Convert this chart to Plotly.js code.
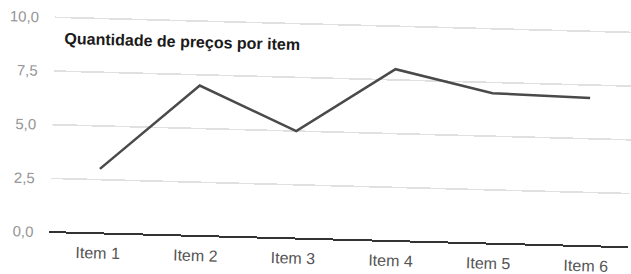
<!DOCTYPE html>
<html>
<head>
<meta charset="utf-8">
<script src="https://cdn.plot.ly/plotly-3.0.1.min.js"></script>
<style>
  html, body { margin: 0; padding: 0; background: #fff; overflow: hidden; }
  #chart { width: 631px; height: 274px; transform: rotate(1.5deg); transform-origin: 50% 50%; }
</style>
</head>
<body>
<div id="chart"></div>
<script>
const categories = ["Item 1", "Item 2", "Item 3", "Item 4", "Item 5", "Item 6"];
const values = [3.0, 7.0, 5.0, 8.0, 7.0, 6.9];
const chartTitle = "Quantidade de preços por item";
const yTickValues = [0, 2.5, 5, 7.5, 10];

const trace = {
  type: "scatter",
  mode: "lines",
  x: categories,
  y: values,
  line: { color: "#4a4a4a", width: 2.5 },
  hoverinfo: "skip"
};

const layout = {
  width: 631,
  height: 274,
  margin: { l: 52, r: 0, t: 22, b: 35 },
  paper_bgcolor: "#ffffff",
  plot_bgcolor: "#ffffff",
  separators: ",.",
  showlegend: false,
  font: { family: "Liberation Sans, Arial, sans-serif", color: "#555" },
  title: {
    text: "<b>" + chartTitle + "</b>",
    font: { family: "Liberation Sans, Arial, sans-serif", size: 16, color: "#1a1a1a" },
    xref: "container", x: 62 / 631, xanchor: "left",
    yref: "container", y: 1 - 45 / 274, yanchor: "middle"
  },
  xaxis: {
    type: "category",
    range: [-0.5, 5.43],
    showgrid: false,
    zeroline: false,
    showline: false,
    ticks: "outside",
    ticklen: 5,
    tickcolor: "rgba(0,0,0,0)",
    tickfont: { size: 16, color: "#555" },
    fixedrange: true
  },
  yaxis: {
    range: [0, 10.1],
    tickvals: yTickValues,
    tickformat: ".1f",
    showgrid: true,
    gridcolor: "#e0e0e0",
    gridwidth: 1.6,
    zeroline: true,
    zerolinecolor: "#333",
    zerolinewidth: 2,
    showline: false,
    ticks: "outside",
    ticklen: 12,
    tickcolor: "rgba(0,0,0,0)",
    tickfont: { size: 15, color: "#959595" },
    fixedrange: true
  }
};

Plotly.newPlot("chart", [trace], layout, { displayModeBar: false, staticPlot: true });
</script>
</body>
</html>
